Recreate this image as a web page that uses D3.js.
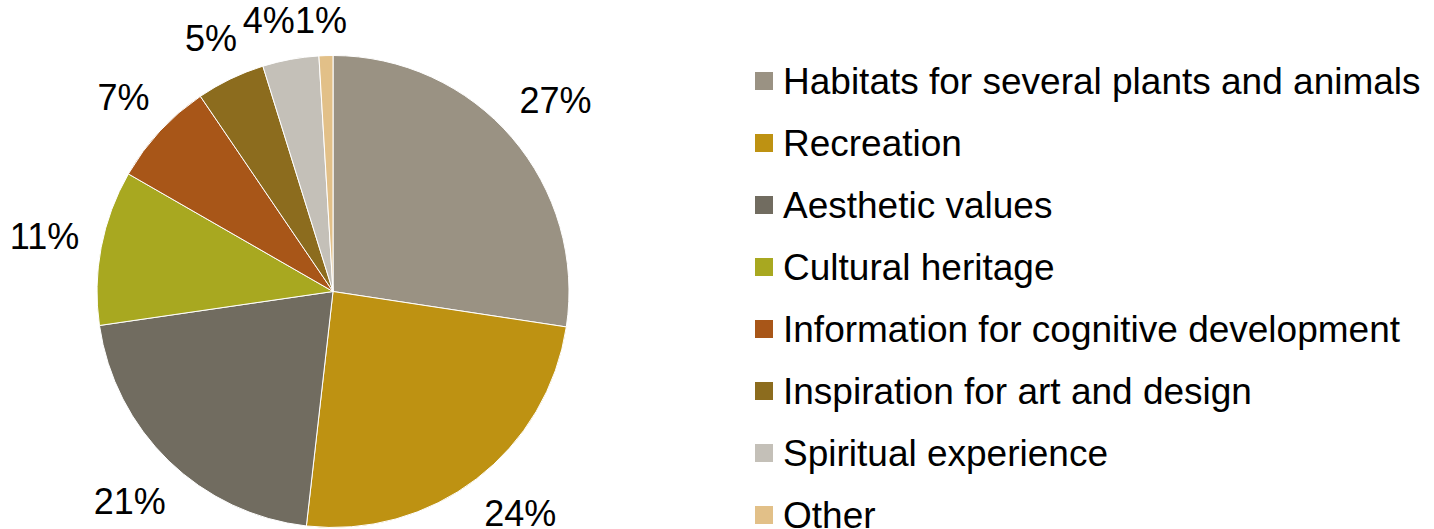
<!DOCTYPE html>
<html><head><meta charset="utf-8">
<script src="https://cdn.jsdelivr.net/npm/d3@7"></script>
<style>body{margin:0;background:#fff}svg{display:block}</style>
</head><body>
<svg id="c" width="1434" height="529"></svg>
<script>
const categories = ["Habitats for several plants and animals","Recreation","Aesthetic values","Cultural heritage","Information for cognitive development","Inspiration for art and design","Spiritual experience","Other"];
const values = [27.4,24.4,20.9,10.6,7.2,4.7,3.85,0.95];
const labels = ["27%","24%","21%","11%","7%","5%","4%","1%"];
const colors = ["#9A9283","#BE9212","#716C60","#A8A820","#A85618","#8C6C1E","#C4C0B8","#E2C088"];

const W = 1434, H = 529;
const svg = d3.select("#c");
const font = "'Liberation Sans', Arial, sans-serif";
const fs = 36, lfs = 37;
const cx = 333, cy = 291.5, r = 236;
const pie = d3.pie().sort(null).value(d => d)(values);
const arc = d3.arc().innerRadius(0).outerRadius(r);
const g = svg.append("g").attr("transform", `translate(${cx},${cy})`);
g.selectAll("path").data(pie).join("path")
  .attr("d", arc).attr("fill", (d,i) => colors[i])
  .attr("stroke", "#fff").attr("stroke-width", 1);

// labels outside, kept inside the picture, with simple collision avoidance
const measure = svg.append("text").attr("font-family", font).attr("font-size", fs);
const gap = 21, hh = 14;
const yMax = H - 16 - cy, yMin = 20 - cy;
const pos = pie.map((d,i) => {
  measure.text(labels[i]);
  const hw = measure.node().getComputedTextLength()/2;
  const a = (d.startAngle + d.endAngle)/2;
  const s = Math.sin(a), c = Math.cos(a);
  const dist = r + gap + Math.abs(s)*hw + Math.abs(c)*hh;
  let x = dist*s, y = -dist*c;
  if (y > yMax || y < yMin) {
    y = Math.max(yMin, Math.min(yMax, y));
    x = Math.sign(s) * Math.sqrt(Math.max(0, dist*dist - y*y));
  }
  return {x, y, hw};
});
measure.remove();
for (let i = pos.length - 2; i >= 0; i--) {
  const p = pos[i], q = pos[i+1];
  if (Math.abs(p.y - q.y) < 2*hh && p.x + p.hw > q.x - q.hw && p.x < q.x) {
    p.x = q.x - q.hw - p.hw;
  }
}
pos.forEach((p,i) => {
  g.append("text").attr("x", p.x).attr("y", p.y).attr("dy", "0.35em")
    .attr("text-anchor", "middle").attr("font-family", font).attr("font-size", fs)
    .attr("fill", "#000").text(labels[i]);
});

// legend
const ly = d3.scalePoint().domain(categories).range([81, 515]);
const lg = svg.append("g");
categories.forEach((cat,i) => {
  const y = ly(cat);
  lg.append("rect").attr("x", 755).attr("y", y - 9).attr("width", 18).attr("height", 18).attr("fill", colors[i]);
  lg.append("text").attr("x", 783).attr("y", y).attr("dy", "0.35em")
    .attr("font-family", font).attr("font-size", lfs).attr("fill", "#000").text(cat);
});
</script>
</body></html>
